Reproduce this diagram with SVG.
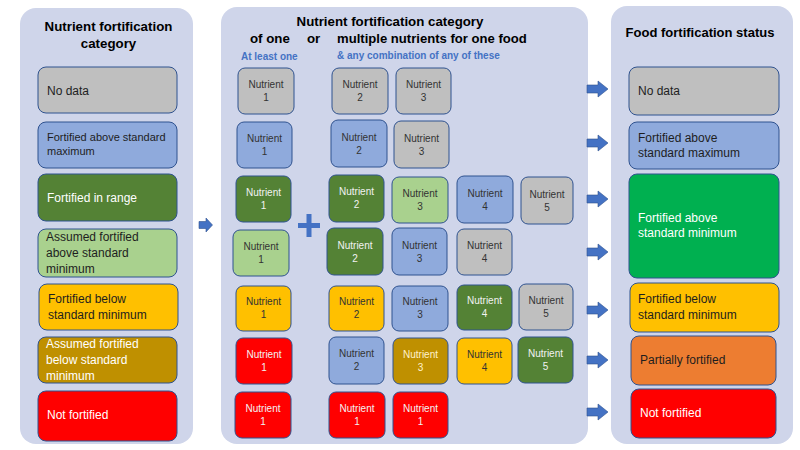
<svg xmlns="http://www.w3.org/2000/svg" width="800" height="450" viewBox="0 0 800 450">
<style>
.panel{fill:#CFD5EA}
.box{stroke:#2F528F;stroke-width:1}
.gray{fill:#BFBFBF}.blue{fill:#8FAADC}.dg{fill:#548235}.lg{fill:#A9D18E}.yel{fill:#FFC000}.gold{fill:#BF9000}.red{fill:#FF0000}.bg{fill:#00B050}.or{fill:#ED7D31}
text{font-family:"Liberation Sans",Arial,sans-serif;font-size:12px;fill:#1E1E1E}
.w{fill:#FFFFFF}
.lw{fill:#FFF2CC}
.s{font-size:11px}
.n{font-size:10px;text-anchor:middle;fill:#333333}
.n.w{fill:#F2F2F2}
.n.lw{fill:#FFF2CC}
.h{font-weight:bold;font-size:13.3px;fill:#000000}
.c{text-anchor:middle}
.sub{font-weight:bold;font-size:10px;fill:#4472C4}
.arr{fill:#4472C4;stroke:#2F528F;stroke-width:0.6}
</style>
<defs>
<path id="rarrow" d="M0,-4 H11 V-8 L21,0 L11,8 V4 H0 Z"/>
</defs>

<g id="panel-left">
<rect class="panel" x="20" y="8" width="173" height="436" rx="16"/>
<text class="h c" x="108.5" y="31">Nutrient fortification</text>
<text class="h c" x="108.5" y="48">category</text>
</g>
<g id="panel-middle">
<rect class="panel" x="221" y="7" width="367" height="437" rx="16"/>
<text class="h c" x="390" y="26">Nutrient fortification category</text>
<text class="h" x="250" y="43">of one</text>
<text class="h" x="307" y="43">or</text>
<text class="h" x="337" y="43" style="font-size:13.1px">multiple nutrients for one food</text>
<text class="sub" x="241" y="60">At least one</text>
<text class="sub" x="337" y="59">&amp; any combination of any of these</text>
</g>
<g id="panel-right">
<rect class="panel" x="611" y="6" width="182" height="438" rx="16"/>
<text class="h c" x="700" y="37" style="font-size:13px">Food fortification status</text>
</g>

<g id="cat-no-data"><rect class="box gray" x="38" y="67" width="139" height="46" rx="8"/><text x="47" y="95">No data</text></g>
<g id="cat-above-max"><rect class="box blue" x="38" y="122" width="139" height="46" rx="8"/><text class="s" x="47" y="141">Fortified above standard</text><text class="s" x="47" y="155">maximum</text></g>
<g id="cat-in-range"><rect class="box dg" x="38" y="174" width="139" height="47" rx="8"/><text class="w" x="47" y="202">Fortified in range</text></g>
<g id="cat-assumed-above"><rect class="box lg" x="38" y="229" width="139" height="48" rx="8"/><text x="46" y="241">Assumed fortified</text><text x="46" y="257">above standard</text><text x="46" y="273">minimum</text></g>
<g id="cat-below-min"><rect class="box yel" x="39" y="284" width="139" height="46" rx="8"/><text x="48" y="303">Fortified below</text><text x="48" y="319">standard minimum</text></g>
<g id="cat-assumed-below"><rect class="box gold" x="38" y="337" width="139" height="46" rx="8"/><text class="w" x="46" y="348">Assumed fortified</text><text class="w" x="46" y="364">below standard</text><text class="w" x="46" y="380">minimum</text></g>
<g id="cat-not-fortified"><rect class="box red" x="38" y="391" width="139" height="50" rx="8"/><text class="w" x="47" y="419">Not fortified</text></g>

<g id="plus">
<rect x="298" y="223" width="22" height="5" fill="#4472C4"/>
<rect x="306.5" y="214" width="5" height="23" fill="#4472C4"/>
</g>

<g id="r1a"><rect class="box gray" x="238" y="68" width="56" height="46" rx="7"/><text class="n" x="266" y="88">Nutrient</text><text class="n" x="266" y="101">1</text></g>
<g id="r1b"><rect class="box gray" x="332" y="68" width="56" height="46" rx="7"/><text class="n" x="360" y="88">Nutrient</text><text class="n" x="360" y="101">2</text></g>
<g id="r1c"><rect class="box gray" x="396" y="68" width="55" height="46" rx="7"/><text class="n" x="423.5" y="88">Nutrient</text><text class="n" x="423.5" y="101">3</text></g>

<g id="r2a"><rect class="box blue" x="237" y="122" width="55" height="46" rx="7"/><text class="n" x="264.5" y="142">Nutrient</text><text class="n" x="264.5" y="155">1</text></g>
<g id="r2b"><rect class="box blue" x="331" y="120" width="56" height="47" rx="7"/><text class="n" x="359" y="141">Nutrient</text><text class="n" x="359" y="154">2</text></g>
<g id="r2c"><rect class="box gray" x="394" y="121" width="55" height="47" rx="7"/><text class="n" x="421.5" y="142">Nutrient</text><text class="n" x="421.5" y="155">3</text></g>

<g id="r3a"><rect class="box dg" x="236" y="176" width="55" height="46" rx="7"/><text class="n w" x="263.5" y="196">Nutrient</text><text class="n w" x="263.5" y="209">1</text></g>
<g id="r3b"><rect class="box dg" x="329" y="175" width="55" height="47" rx="7"/><text class="n w" x="356.5" y="195">Nutrient</text><text class="n w" x="356.5" y="208">2</text></g>
<g id="r3c"><rect class="box lg" x="392" y="177" width="56" height="46" rx="7"/><text class="n" x="420" y="197">Nutrient</text><text class="n" x="420" y="210">3</text></g>
<g id="r3d"><rect class="box blue" x="457" y="176" width="56" height="47" rx="7"/><text class="n" x="485" y="197">Nutrient</text><text class="n" x="485" y="210">4</text></g>
<g id="r3e"><rect class="box gray" x="521" y="177" width="52" height="47" rx="7"/><text class="n" x="547" y="198">Nutrient</text><text class="n" x="547" y="211">5</text></g>

<g id="r4a"><rect class="box lg" x="233" y="230" width="56" height="46" rx="7"/><text class="n" x="261" y="250">Nutrient</text><text class="n" x="261" y="263">1</text></g>
<g id="r4b"><rect class="box dg" x="327" y="228" width="56" height="47" rx="7"/><text class="n w" x="355" y="249">Nutrient</text><text class="n w" x="355" y="262">2</text></g>
<g id="r4c"><rect class="box blue" x="392" y="228" width="55" height="47" rx="7"/><text class="n" x="419.5" y="249">Nutrient</text><text class="n" x="419.5" y="262">3</text></g>
<g id="r4d"><rect class="box gray" x="457" y="229" width="55" height="46" rx="7"/><text class="n" x="484.5" y="249">Nutrient</text><text class="n" x="484.5" y="262">4</text></g>

<g id="r5a"><rect class="box yel" x="236" y="286" width="55" height="45" rx="7"/><text class="n" x="263.5" y="305">Nutrient</text><text class="n" x="263.5" y="318">1</text></g>
<g id="r5b"><rect class="box yel" x="329" y="286" width="55" height="45" rx="7"/><text class="n" x="356.5" y="305">Nutrient</text><text class="n" x="356.5" y="318">2</text></g>
<g id="r5c"><rect class="box blue" x="392" y="286" width="56" height="45" rx="7"/><text class="n" x="420" y="305">Nutrient</text><text class="n" x="420" y="318">3</text></g>
<g id="r5d"><rect class="box dg" x="457" y="285" width="55" height="45" rx="7"/><text class="n w" x="484.5" y="304">Nutrient</text><text class="n w" x="484.5" y="317">4</text></g>
<g id="r5e"><rect class="box gray" x="519" y="284" width="54" height="46" rx="7"/><text class="n" x="546" y="304">Nutrient</text><text class="n" x="546" y="317">5</text></g>

<g id="r6a"><rect class="box red" x="236" y="338" width="56" height="46" rx="7"/><text class="n w" x="264" y="358">Nutrient</text><text class="n w" x="264" y="371">1</text></g>
<g id="r6b"><rect class="box blue" x="329" y="337" width="55" height="47" rx="7"/><text class="n" x="356.5" y="357">Nutrient</text><text class="n" x="356.5" y="370">2</text></g>
<g id="r6c"><rect class="box gold" x="393" y="338" width="55" height="46" rx="7"/><text class="n lw" x="420.5" y="358">Nutrient</text><text class="n lw" x="420.5" y="371">3</text></g>
<g id="r6d"><rect class="box yel" x="457" y="338" width="55" height="46" rx="7"/><text class="n" x="484.5" y="358">Nutrient</text><text class="n" x="484.5" y="371">4</text></g>
<g id="r6e"><rect class="box dg" x="518" y="337" width="55" height="46" rx="7"/><text class="n w" x="545.5" y="357">Nutrient</text><text class="n w" x="545.5" y="370">5</text></g>

<g id="r7a"><rect class="box red" x="235" y="392" width="56" height="46" rx="7"/><text class="n w" x="263" y="412">Nutrient</text><text class="n w" x="263" y="425">1</text></g>
<g id="r7b"><rect class="box red" x="329" y="392" width="56" height="46" rx="7"/><text class="n w" x="357" y="412">Nutrient</text><text class="n w" x="357" y="425">1</text></g>
<g id="r7c"><rect class="box red" x="393" y="392" width="55" height="46" rx="7"/><text class="n w" x="420.5" y="412">Nutrient</text><text class="n w" x="420.5" y="425">1</text></g>

<g id="status-no-data"><rect class="box gray" x="629" y="67" width="150" height="48" rx="8"/><text x="638" y="95">No data</text></g>
<g id="status-above-max"><rect class="box blue" x="629" y="122" width="150" height="47" rx="8"/><text x="638" y="142">Fortified above</text><text x="638" y="157">standard maximum</text></g>
<g id="status-above-min"><rect class="box bg" x="629" y="174" width="150" height="104" rx="8"/><text class="w" x="638" y="222">Fortified above</text><text class="w" x="638" y="237">standard minimum</text></g>
<g id="status-below-min"><rect class="box yel" x="630" y="283" width="149" height="49" rx="8"/><text x="638" y="303">Fortified below</text><text x="638" y="319">standard minimum</text></g>
<g id="status-partial"><rect class="box or" x="631" y="336" width="145" height="49" rx="8"/><text x="640" y="364">Partially fortified</text></g>
<g id="status-not-fortified"><rect class="box red" x="631" y="389" width="145" height="49" rx="8"/><text class="w" x="640" y="417">Not fortified</text></g>

<g id="connectors">
<path class="arr" d="M199,221.5 H206 V218 L212.5,225 L206,232 V228.5 H199 Z"/>
<use href="#rarrow" class="arr" transform="translate(587,89)"/>
<use href="#rarrow" class="arr" transform="translate(587,143)"/>
<use href="#rarrow" class="arr" transform="translate(587,199)"/>
<use href="#rarrow" class="arr" transform="translate(587,252)"/>
<use href="#rarrow" class="arr" transform="translate(587,310)"/>
<use href="#rarrow" class="arr" transform="translate(587,360)"/>
<use href="#rarrow" class="arr" transform="translate(587,412)"/>
</g>
</svg>
